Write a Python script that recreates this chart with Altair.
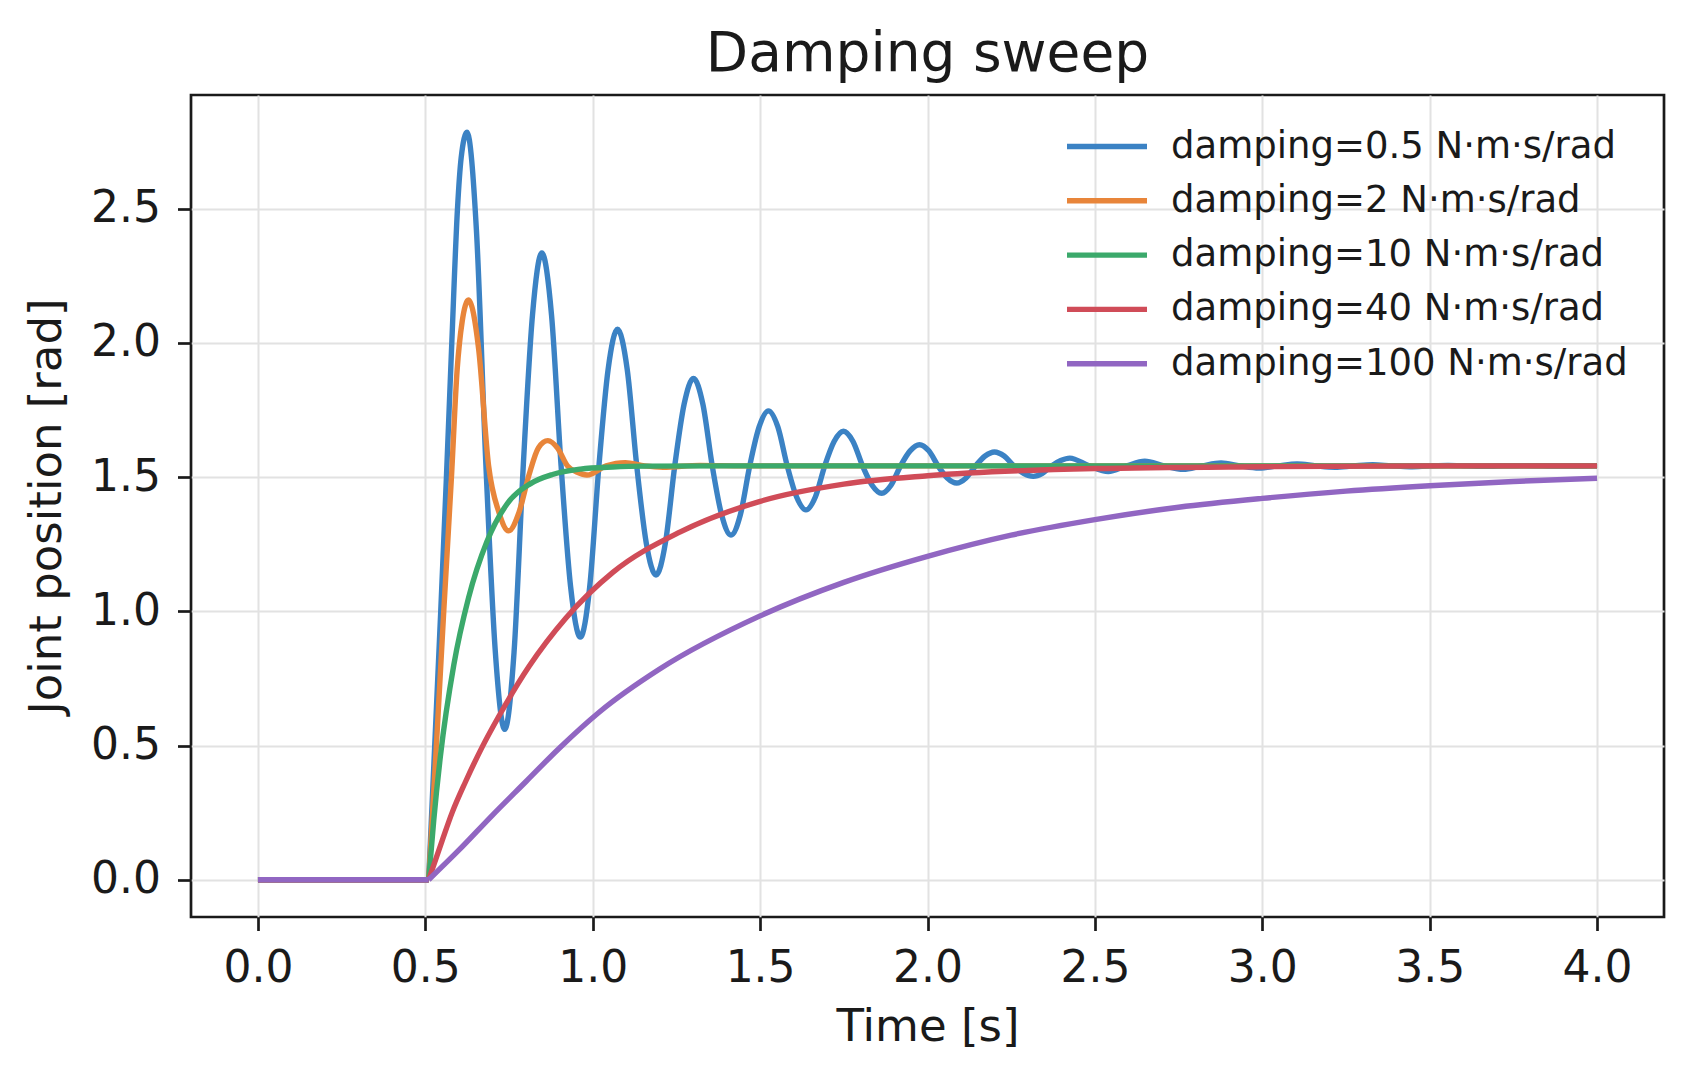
import altair as alt
import pandas as pd

labels = [
    "damping=0.5 N·m·s/rad",
    "damping=2 N·m·s/rad",
    "damping=10 N·m·s/rad",
    "damping=40 N·m·s/rad",
    "damping=100 N·m·s/rad",
]
colors = ["#3b82c4", "#e8853a", "#3ba96b", "#d04c58", "#9166c2"]
step_time = 0.51
tick_values = [0.0, 0.5, 1.0, 1.5, 2.0, 2.5, 3.0, 3.5, 4.0]
y_tick_values = [0.0, 0.5, 1.0, 1.5, 2.0, 2.5]

blue_t = [
    0.0, 0.51, 0.528, 0.546, 0.563, 0.579, 0.596, 0.607, 0.6245,
    0.6526, 0.681, 0.709, 0.737,
    0.765, 0.7925, 0.820, 0.848,
    0.877, 0.9055, 0.934, 0.963,
    0.991, 1.0185, 1.046, 1.074,
    1.103, 1.1315, 1.160, 1.189,
    1.217, 1.245, 1.273, 1.301,
    1.329, 1.357, 1.385, 1.413,
    1.441, 1.469, 1.497, 1.525,
    1.553, 1.581, 1.609, 1.637,
    1.665, 1.693, 1.721, 1.749,
    1.7775, 1.806, 1.8345, 1.863,
    1.891, 1.9195, 1.948, 1.976,
    2.004, 2.0315, 2.059, 2.087,
    2.115, 2.1435, 2.172, 2.200,
    2.229, 2.258, 2.287, 2.316,
    2.343, 2.3705, 2.398, 2.425,
    2.4825, 2.540, 2.5945, 2.649,
    2.7065, 2.764, 2.820, 2.877,
    2.933, 2.990, 3.047, 3.104,
    3.160, 3.217, 3.273, 3.330,
    3.386, 3.442, 3.4985, 3.555,
    3.611, 3.667, 3.7235, 3.780,
    3.836, 3.892, 4.0,
]
blue_v = [
    0.0, 0.0, 0.50, 1.00, 1.50, 2.00, 2.50, 2.69, 2.785,
    2.42, 1.542, 0.85, 0.56,
    0.848, 1.542, 2.103, 2.335,
    2.103, 1.542, 1.091, 0.904,
    1.091, 1.542, 1.902, 2.051,
    1.902, 1.542, 1.254, 1.135,
    1.254, 1.542, 1.772, 1.868,
    1.772, 1.542, 1.360, 1.284,
    1.360, 1.542, 1.687, 1.747,
    1.687, 1.542, 1.426, 1.378,
    1.426, 1.542, 1.633, 1.671,
    1.633, 1.542, 1.470, 1.440,
    1.470, 1.542, 1.598, 1.621,
    1.598, 1.542, 1.497, 1.478,
    1.497, 1.542, 1.579, 1.594,
    1.579, 1.542, 1.514, 1.503,
    1.514, 1.542, 1.562, 1.571,
    1.542, 1.521, 1.542, 1.559,
    1.542, 1.529, 1.542, 1.553,
    1.542, 1.534, 1.542, 1.549,
    1.542, 1.537, 1.542, 1.546,
    1.542, 1.539, 1.542, 1.544,
    1.542, 1.540, 1.542, 1.543,
    1.542, 1.541, 1.542,
]

orange_t = [0.0, 0.51, 0.533, 0.555, 0.578, 0.595, 0.610, 0.629, 0.659, 0.689,
            0.719, 0.749, 0.780, 0.810, 0.838, 0.866, 0.895, 0.9245, 0.954, 0.983,
            1.040, 1.097, 1.155, 1.210, 1.320, 1.450, 4.0]
orange_v = [0.0, 0.0, 0.50, 1.00, 1.50, 1.90, 2.08, 2.16, 1.98, 1.542,
            1.372, 1.30, 1.37, 1.51, 1.61, 1.636, 1.608, 1.542, 1.518, 1.508,
            1.542, 1.554, 1.542, 1.537, 1.544, 1.542, 1.542]

green_t = [0.0, 0.51, 0.525, 0.545, 0.585, 0.629, 0.684, 0.744, 0.813, 0.880,
           0.963, 1.060, 1.162, 1.400, 4.0]
green_v = [0.0, 0.0, 0.22, 0.46, 0.80, 1.05, 1.26, 1.40, 1.475, 1.51,
           1.53, 1.538, 1.541, 1.542, 1.542]

red_t = [0.0, 0.51, 0.55, 0.58, 0.62, 0.67, 0.72, 0.81, 0.92, 1.06,
         1.26, 1.50, 1.75, 2.00, 2.50, 3.00, 3.50, 4.0]
red_v = [0.0, 0.0, 0.145, 0.25, 0.365, 0.495, 0.61, 0.795, 0.975, 1.145,
         1.295, 1.41, 1.474, 1.505, 1.532, 1.539, 1.542, 1.542]

purple_t = [0.0, 0.51, 0.60, 0.70, 0.80, 0.90, 1.02, 1.20, 1.50, 1.75,
            2.00, 2.25, 2.50, 2.75, 3.00, 3.25, 3.50, 3.75, 4.0]
purple_v = [0.0, 0.0, 0.11, 0.24, 0.365, 0.49, 0.625, 0.785, 0.983, 1.108,
            1.205, 1.284, 1.342, 1.388, 1.421, 1.448, 1.468, 1.484, 1.496]

times = [blue_t, orange_t, green_t, red_t, purple_t]
values = [blue_v, orange_v, green_v, red_v, purple_v]

# long table; the flat part before the step is its own segment so the corner stays sharp
rows = []
for name, ts, vs in zip(labels, times, values):
    assert len(ts) == len(vs), name
    for t, v in zip(ts, vs):
        if t <= step_time:
            rows.append({"series": name, "seg": "hold", "t": t, "v": v})
        if t >= step_time:
            rows.append({"series": name, "seg": "move", "t": t, "v": v})
df = pd.DataFrame(rows)

font = "DejaVu Sans"
ink = "#1a1a1a"

chart = (
    alt.Chart(df)
    .mark_line(interpolate="monotone", strokeWidth=5.4, clip=True)
    .encode(
        x=alt.X(
            "t:Q",
            scale=alt.Scale(domain=[-0.2, 4.2], nice=False, zero=False),
            axis=alt.Axis(values=tick_values, format=".1f", title="Time [s]",
                          labelPadding=16, labelFlush=False,
                          titleBaseline="alphabetic", titleY=123),
        ),
        y=alt.Y(
            "v:Q",
            scale=alt.Scale(domain=[-0.139, 2.924], nice=False, zero=False),
            axis=alt.Axis(values=y_tick_values, format=".1f",
                          title="Joint position [rad]", labelPadding=17,
                          titleX=-122),
        ),
        color=alt.Color(
            "series:N",
            scale=alt.Scale(domain=labels, range=colors),
            legend=alt.Legend(
                title=None, orient="none", legendX=893, legendY=28.5,
                # a short wide path keeps the rows tight while the swatch stays 80px long
                symbolType="M-2,0H2", symbolSize=1600, symbolStrokeWidth=5.4,
                symbolFillColor="transparent",
                labelFont=font, labelFontSize=37, labelColor=ink,
                labelOffset=41, labelLimit=1000, rowPadding=13.3, padding=0,
            ),
        ),
        detail="seg:N",
    )
    .properties(
        width=1473,
        height=822,
        title=alt.TitleParams("Damping sweep", font=font, fontSize=55,
                              fontWeight="normal", color=ink, offset=12,
                              anchor="middle"),
        autosize=alt.AutoSizeParams(type="none"),
        padding={"left": 183, "top": 87, "right": 19, "bottom": 155},
    )
    .configure_view(stroke=ink, strokeWidth=2.7)
    .configure_axis(
        domain=False, grid=True, gridColor="#e2e2e2", gridWidth=2,
        tickColor=ink, tickWidth=2.7, tickSize=13.5,
        labelFont=font, labelFontSize=44, labelColor=ink,
        titleFont=font, titleFontSize=45, titleFontWeight="normal", titleColor=ink,
    )
)

chart.save("out.html", embed_options={"renderer": "svg", "actions": False})
